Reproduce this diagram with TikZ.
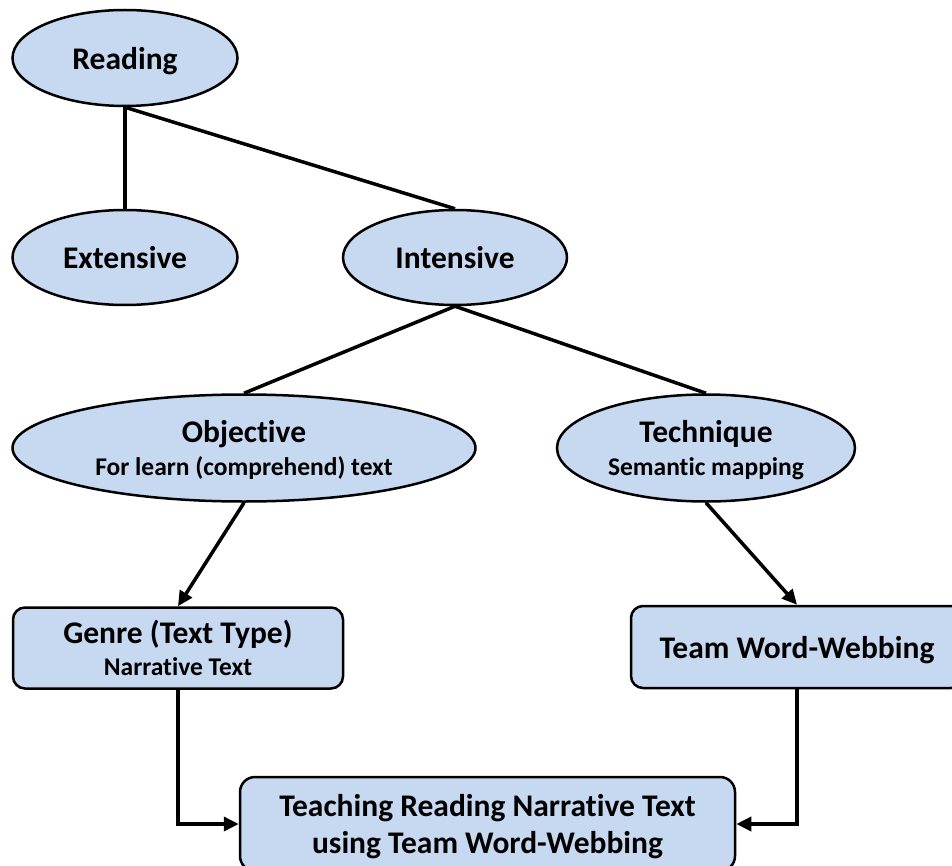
\documentclass[tikz,border=0pt]{standalone}
\usepackage{fontspec}
\setmainfont{Carlito}[Ligatures=NoCommon]
\usetikzlibrary{shapes.geometric,arrows.meta}
\definecolor{boxblue}{RGB}{198,217,240}
\newcommand{\subt}[1]{{\fontsize{25.5}{30}\selectfont #1}}
\begin{document}
\begin{tikzpicture}[x=1pt,y=-1pt,
  ell/.style={ellipse,draw,line width=2.5pt,fill=boxblue,inner sep=0pt,align=center,text depth=0pt},
  rbox/.style={rectangle,rounded corners=12pt,draw,line width=2.5pt,fill=boxblue,inner sep=0pt,align=center,text depth=0pt},
  link/.style={line width=3.5pt},
  arr/.style={line width=3.5pt,-{Triangle[length=15pt,width=14pt]}},
  big/.style={font=\bfseries\fontsize{31.5}{37}\selectfont},
]
\useasboundingbox (0,0) rectangle (952,866);
\clip (0,0) rectangle (952,866);

\node[ell,big,minimum width=225pt,minimum height=96pt] (reading) at (125,58) {Reading};
\node[ell,big,minimum width=225pt,minimum height=95pt] (extensive) at (125,257.5) {Extensive};
\node[ell,big,minimum width=224pt,minimum height=95pt] (intensive) at (455,257.5) {Intensive};

\node[ell,big,minimum width=463pt,minimum height=107pt] (objective) at (244,448)
  {Objective\\[-4pt]\subt{For learn (comprehend) text}};
\node[ell,big,minimum width=298pt,minimum height=107pt] (technique) at (706,448)
  {Technique\\[-4pt]\subt{Semantic mapping}};

\node[rbox,big,minimum width=330pt,minimum height=81pt] (genre) at (178,648)
  {Genre (Text Type)\\[-5pt]\subt{Narrative Text}};
\node[rbox,big,minimum width=332pt,minimum height=82pt] (team) at (797,647)
  {Team Word-Webbing};
\node[rbox,big,minimum width=495pt,minimum height=94pt,rounded corners=15pt] (final) at (487.5,824)
  {Teaching Reading Narrative Text\\using Team Word-Webbing};

\draw[link] (reading.south) -- (extensive.north);
\draw[link] (reading.south) -- (intensive.north);
\draw[link] (intensive.south) -- (objective.north);
\draw[link] (intensive.south) -- (technique.north);
\draw[arr] (objective.south) -- (genre.north);
\draw[arr] (technique.south) -- (team.north);
\draw[arr] (genre.south) |- (final.west);
\draw[arr] (team.south) |- (final.east);
\end{tikzpicture}
\end{document}
